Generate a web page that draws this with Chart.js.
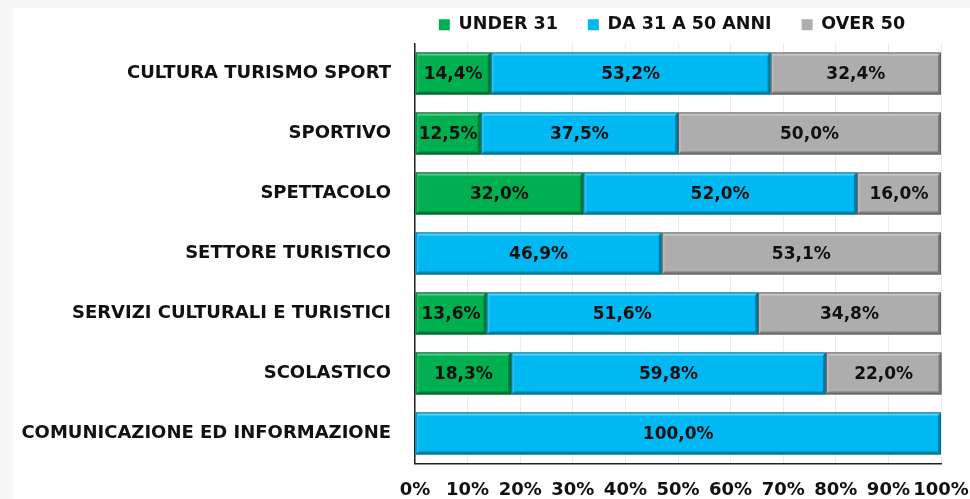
<!DOCTYPE html>
<html>
<head>
<meta charset="utf-8">
<script src="https://cdn.jsdelivr.net/npm/chart.js@4.4.1/dist/chart.umd.min.js"></script>
<style>
    html, body { margin: 0; padding: 0; background: #f6f6f6; }
    #wrap { position: absolute; left: 13px; top: 8px; width: 957px; height: 491px; background: #ffffff; }
</style>
</head>
<body>
<div id="wrap"><canvas id="ageChart"></canvas></div>
<script>
    "use strict";

    var categories = [
        "CULTURA TURISMO SPORT",
        "SPORTIVO",
        "SPETTACOLO",
        "SETTORE TURISTICO",
        "SERVIZI CULTURALI E TURISTICI",
        "SCOLASTICO",
        "COMUNICAZIONE ED INFORMAZIONE"
    ];
    var seriesNames = ["UNDER 31", "DA 31 A 50 ANNI", "OVER 50"];
    var under31 = [14.4, 12.5, 32.0, 0, 13.6, 18.3, 0];
    var from31to50 = [53.2, 37.5, 52.0, 46.9, 51.6, 59.8, 100.0];
    var over50 = [32.4, 50.0, 16.0, 53.1, 34.8, 22.0, 0];
    var xTickValues = [0, 10, 20, 30, 40, 50, 60, 70, 80, 90, 100];

    var fills = ["#00b050", "#00b9f2", "#adadad"];
    var edges = ["#00602b", "#006d90", "#5e5e5e"];
    var FONT = "'DejaVu Sans'";

    function pct(v) {
        return v.toFixed(1).replace(".", ",") + "%";
    }

    function poly(ctx, pts, color) {
        ctx.beginPath();
        ctx.moveTo(pts[0][0], pts[0][1]);
        for (var i = 1; i < pts.length; i++) ctx.lineTo(pts[i][0], pts[i][1]);
        ctx.closePath();
        ctx.fillStyle = color;
        ctx.fill();
    }

    // raised-tile look on every bar segment
    var bevel = {
        id: "bevel",
        afterDatasetsDraw: function (chart) {
            var ctx = chart.ctx;
            chart.data.datasets.forEach(function (ds, di) {
                var meta = chart.getDatasetMeta(di);
                meta.data.forEach(function (bar, i) {
                    if (!ds.data[i]) return;
                    var p = bar.getProps(["x", "y", "base", "height"], true);
                    var l = Math.min(p.base, p.x), r = Math.max(p.base, p.x);
                    var t = p.y - p.height / 2, b = p.y + p.height / 2;
                    var d = 3;
                    ctx.save();
                    poly(ctx, [[l, t], [r, t], [r - d, t + d], [l + d, t + d]], "rgba(255,255,255,0.35)");
                    poly(ctx, [[l, t], [l + d, t + d], [l + d, b - d], [l, b]], "rgba(255,255,255,0.15)");
                    poly(ctx, [[l, b], [l + d, b - d], [r - d, b - d], [r, b]], "rgba(0,0,0,0.28)");
                    poly(ctx, [[r, t], [r, b], [r - d, b - d], [r - d, t + d]], "rgba(0,0,0,0.3)");
                    ctx.strokeStyle = edges[di];
                    ctx.lineWidth = 1;
                    ctx.strokeRect(l + 0.5, t + 0.5, r - l - 1, b - t - 1);
                    ctx.restore();
                });
            });
        }
    };

    var valueLabels = {
        id: "valueLabels",
        afterDatasetsDraw: function (chart) {
            var ctx = chart.ctx;
            ctx.save();
            ctx.font = "bold 17px " + FONT;
            ctx.fillStyle = "#111";
            ctx.textAlign = "center";
            ctx.textBaseline = "middle";
            chart.data.datasets.forEach(function (ds, di) {
                var meta = chart.getDatasetMeta(di);
                meta.data.forEach(function (bar, i) {
                    var v = ds.data[i];
                    if (!v) return;
                    var p = bar.getProps(["x", "y", "base"], true);
                    ctx.fillText(pct(v), (p.x + p.base) / 2, p.y + 1);
                });
            });
            ctx.restore();
        }
    };

    // centre the legend over the plot instead of the whole canvas
    var legendShift = {
        id: "legendShift",
        afterLayout: function (chart) {
            var lg = chart.legend;
            if (!lg) return;
            var dx = (chart.chartArea.left + chart.chartArea.right) / 2 - 6 - (lg.left + lg.right) / 2;
            lg.left += dx;
            lg.right += dx;
        }
    };

    var values = [under31, from31to50, over50];
    var datasets = values.map(function (arr, k) {
        return {
            label: seriesNames[k],
            data: arr,
            backgroundColor: fills[k],
            borderColor: edges[k],
            borderWidth: 0,
            categoryPercentage: 0.7,
            barPercentage: 1.0
        };
    });

    new Chart(document.getElementById("ageChart"), {
        type: "bar",
        data: { labels: categories, datasets: datasets },
        plugins: [bevel, valueLabels, legendShift],
        options: {
            indexAxis: "y",
            responsive: true,
            maintainAspectRatio: false,
            animation: false,
            layout: { padding: { top: -22, right: 29, bottom: -18, left: 0 } },
            plugins: {
                tooltip: { enabled: false },
                legend: {
                    position: "top",
                    labels: {
                        color: "#111",
                        font: { family: FONT, weight: "bold", size: 17.5 },
                        boxWidth: 11,
                        boxHeight: 11,
                        padding: 30
                    }
                }
            },
            scales: {
                x: {
                    stacked: true,
                    min: 0,
                    max: 100,
                    afterBuildTicks: function (scale) {
                        scale.ticks = xTickValues.map(function (v) { return { value: v }; });
                    },
                    afterFit: function (scale) {
                        scale.paddingLeft = 0;
                        scale.paddingRight = 0;
                    },
                    ticks: {
                        color: "#111",
                        font: { family: FONT, weight: "bold", size: 18 },
                        padding: 16,
                        maxRotation: 0,
                        minRotation: 0,
                        autoSkip: false,
                        callback: function (v) { return v + "%"; }
                    },
                    grid: { color: "#ececec", drawTicks: false },
                    border: { display: true, color: "#222", width: 1.5 }
                },
                y: {
                    stacked: true,
                    afterFit: function (scale) { scale.width = 402; },
                    ticks: {
                        color: "#111",
                        font: { family: FONT, weight: "bold", size: 18 },
                        padding: 24
                    },
                    grid: { display: false, drawTicks: false },
                    border: { display: true, color: "#222", width: 1.5 }
                }
            }
        }
    });
</script>
</body>
</html>
